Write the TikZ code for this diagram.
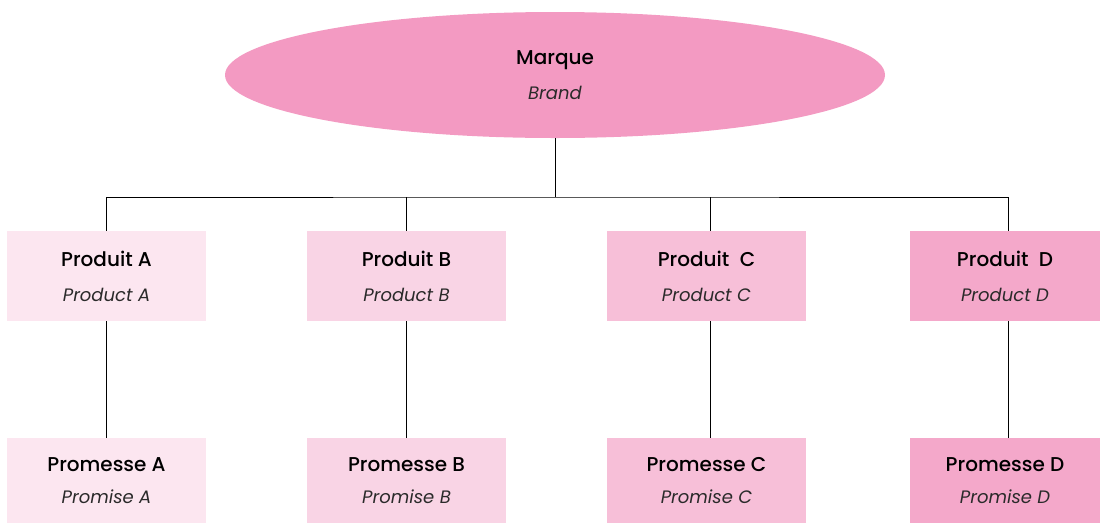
\documentclass[tikz,border=0pt]{standalone}
\usepackage{fontspec}
\setmainfont{Poppins}
\newfontfamily\medfont{Poppins Medium}
\usetikzlibrary{shapes.geometric}
\definecolor{cE}{HTML}{F39AC2}
\definecolor{cA}{HTML}{FCE6F0}
\definecolor{cB}{HTML}{F9D4E5}
\definecolor{cC}{HTML}{F7BFD8}
\definecolor{cD}{HTML}{F4A8CA}
\definecolor{itc}{HTML}{2A2A2A}
\tikzset{
  box/.style={rectangle, inner sep=0pt, minimum width=199pt, align=center, font=\fontsize{18}{35}\selectfont},
  topbox/.style={box, minimum height=90pt},
  botbox/.style={box, minimum height=85pt, font=\fontsize{18}{32}\selectfont},
  conn/.style={draw=black, line width=0.8pt}
}
\newcommand{\ttl}[1]{{\medfont\fontsize{20}{35}\selectfont #1}}
\newcommand{\tsub}[1]{{\itshape\color{itc}#1}}
\begin{document}
\begin{tikzpicture}[x=1pt,y=-1pt]
\useasboundingbox (0,0) rectangle (1100,523);
\node[ellipse, fill=cE, inner sep=0pt, minimum width=660pt, minimum height=126pt, align=center, font=\fontsize{18}{35}\selectfont] (brand) at (555,75) {\ttl{Marque}\\\tsub{Brand}};
\node[topbox, fill=cA] (pa) at (106.5,276) {\ttl{Produit A}\\\tsub{Product A}};
\node[topbox, fill=cB] (pb) at (406.5,276) {\ttl{Produit B}\\\tsub{Product B}};
\node[topbox, fill=cC] (pc) at (706.5,276) {\ttl{Produit\ \ C}\\\tsub{Product C}};
\node[topbox, fill=cD, minimum width=190pt] (pd) at (1005,276) {\ttl{Produit\ \ D}\\\tsub{Product D}};
\node[botbox, fill=cA] (ma) at (106.5,480.5) {\ttl{Promesse A}\\\tsub{Promise A}};
\node[botbox, fill=cB] (mb) at (406.5,480.5) {\ttl{Promesse B}\\\tsub{Promise B}};
\node[botbox, fill=cC] (mc) at (706.5,480.5) {\ttl{Promesse C}\\\tsub{Promise C}};
\node[botbox, fill=cD, minimum width=190pt] (md) at (1005,480.5) {\ttl{Promesse D}\\\tsub{Promise D}};
\coordinate (j) at (555,197);
\draw[conn] (brand.south) -- (j);
\draw[conn] (pa.north) |- (j) -| ([xshift=3pt]pd.north);
\draw[conn] (pb.north) -- (pb.north |- j);
\draw[conn] ([xshift=3.5pt]pc.north) -- ([xshift=3.5pt]pc.north |- j);
\draw[conn] (pa.south) -- (ma.north);
\draw[conn] (pb.south) -- (mb.north);
\draw[conn] ([xshift=3.5pt]pc.south) -- ([xshift=3.5pt]mc.north);
\draw[conn] ([xshift=3pt]pd.south) -- ([xshift=3pt]md.north);
\end{tikzpicture}
\end{document}
